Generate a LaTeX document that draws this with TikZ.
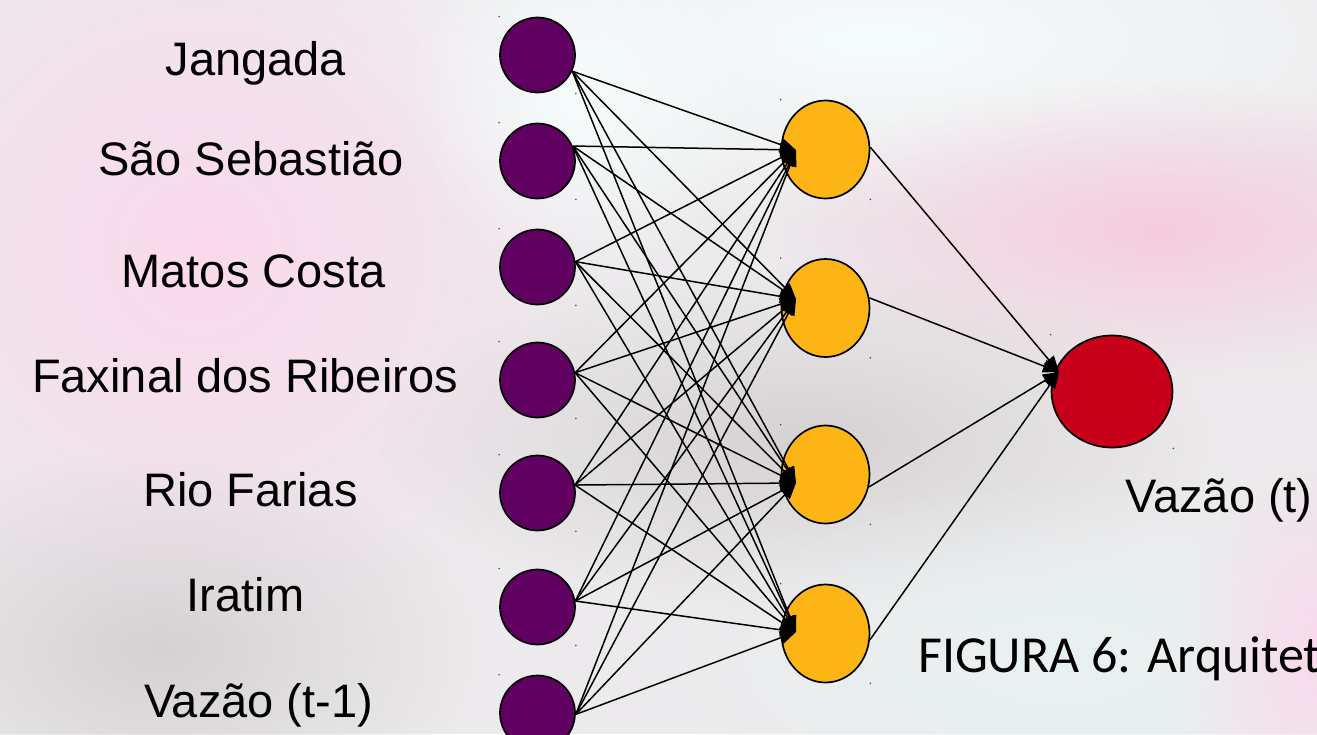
\documentclass[tikz,border=0pt]{standalone}
\usepackage{fontspec}
\setmainfont{Liberation Sans}
\newfontfamily\carlito{Carlito}
\usetikzlibrary{shapes.geometric,arrows.meta,fadings}
\tikzfading[name=softblob, inner color=transparent!0, outer color=transparent!100]
\definecolor{purp}{RGB}{96,0,96}
\definecolor{gold}{RGB}{253,181,22}
\definecolor{outred}{RGB}{200,0,26}
\definecolor{bgbase}{RGB}{236,234,236}
\definecolor{bgwhite}{RGB}{246,252,252}
\definecolor{bgpink}{RGB}{246,204,222}
\definecolor{bgpinkl}{RGB}{251,218,236}
\definecolor{bggrey}{RGB}{214,210,212}
\definecolor{bgcyan}{RGB}{232,242,242}
\tikzset{
  inp/.style={circle, draw=black, line width=1.7pt, fill=purp, minimum size=75pt, inner sep=0pt},
  hid/.style={ellipse, draw=black, line width=1.7pt, fill=gold, minimum width=88pt, minimum height=98pt, inner sep=0pt},
  outn/.style={ellipse, draw=black, line width=1.7pt, fill=outred, minimum width=121pt, minimum height=112pt, inner sep=0pt},
  lbl/.style={font=\fontsize{47}{52}\selectfont, anchor=base, inner sep=0pt},
  conn/.style={line width=1.5pt, -{Triangle[length=16pt,width=13pt]}},
  tick/.style={fill=black!70},
  blob/.style={path fading=softblob}
}
\begin{document}
\begin{tikzpicture}[x=1pt,y=-1pt]
\useasboundingbox (0,0) rectangle (1317,734);
% background (blurred photo approximation)
\fill[bgbase] (0,0) rectangle (1317,734);
\fill[bgwhite, blob] (880,40) ellipse (620pt and 190pt);
\fill[bgpinkl, blob] (200,250) ellipse (400pt and 400pt);
\fill[bgpink, blob] (1160,230) ellipse (400pt and 150pt);
\fill[bggrey, blob] (800,440) ellipse (420pt and 170pt);
\fill[bggrey, blob] (160,650) ellipse (320pt and 200pt);
\fill[bgcyan, blob] (1060,660) ellipse (420pt and 180pt);
\fill[bgpinkl, blob] (1317,650) ellipse (130pt and 200pt);
\fill[bgwhite, blob] (580,100) ellipse (180pt and 180pt);

% input nodes
\node[inp] (i1) at (537.5,55) {};
\node[inp] (i2) at (537.5,161) {};
\node[inp] (i3) at (537.5,267) {};
\node[inp] (i4) at (537.5,380) {};
\node[inp] (i5) at (537.5,493) {};
\node[inp] (i6) at (537.5,607) {};
\node[inp] (i7) at (537.5,713) {};
% hidden nodes
\node[hid] (h1) at (825.5,149.5) {};
\node[hid] (h2) at (825.5,308) {};
\node[hid] (h3) at (825.5,474.5) {};
\node[hid] (h4) at (825.5,633.5) {};
% output node
\node[outn] (o) at (1112,391.5) {};

% connector targets
\coordinate (t1) at (796,150);
\coordinate (t2) at (796,299);
\coordinate (t3) at (796,483);
\coordinate (t4) at (796,632);
\coordinate (to) at (1059,372);

% small corner marks
\foreach \n in {i1,i2,i3,i4,i5,i6,i7,h1,h2,h3,h4,o}{
  \fill[tick] (\n.west |- \n.north) circle (0.9pt);
  \fill[tick] (\n.east |- \n.south) circle (0.9pt);
}

% input -> hidden
\foreach \i/\a in {1/-25,2/23,3/8,4/11,5/12,6/9,7/-2}{
  \foreach \j in {1,2,3,4}{
    \draw[conn] (i\i.\a) -- (t\j);
  }
}
% hidden -> output
\foreach \j/\a in {1/3,2/13,3/-16,4/-8}{
  \draw[conn] (h\j.\a) -- (to);
}

% labels
\node[lbl] (l1) at (256,75) {Jangada};
\node[lbl] (l2) at (251,175) {São Sebastião};
\node[lbl] (l3) at (253.5,287) {Matos Costa};
\node[lbl] (l4) at (245,392) {Faxinal dos Ribeiros};
\node[lbl] (l5) at (250.5,506) {Rio Farias};
\node[lbl] (l6) at (245.5,611) {Iratim};
\node[lbl] (l7) at (258.5,717) {Vazão (t-1)};
\node[lbl] (lo) at (1219,512) {Vazão (t)};
\node[font=\carlito\fontsize{52}{56}\selectfont, anchor=base west, inner sep=0pt] (cap) at (918,672) {FIGURA 6: Arquitet};
\end{tikzpicture}
\end{document}
